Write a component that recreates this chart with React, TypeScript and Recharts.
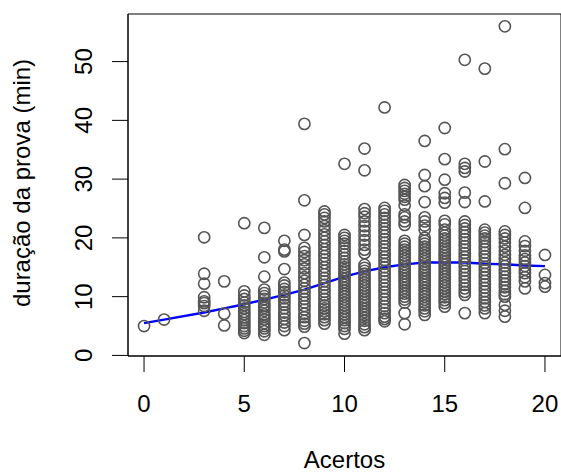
import {
  ComposedChart,
  Line,
  ReferenceArea,
  Scatter,
  XAxis,
  YAxis,
} from "recharts";

// number of correct answers (Acertos) that appear in the sample
const scores = [0, 1, 3, 4, 5, 6, 7, 8, 9, 10, 11, 12, 13, 14, 15, 16, 17, 18, 19, 20];

// exam duration in minutes, one list per score above
const durations: number[][] = [
  [5.0],
  [6.1],
  [20.1, 13.9, 12.2, 9.9, 9.2, 8.9, 8.4, 7.6],
  [12.6, 7.1, 5.1],
  [22.5, 10.9, 10.2, 9.6, 9.0, 8.5, 8.0, 7.4, 7.0, 6.5, 6.0, 5.5, 5.0, 4.6, 4.2, 3.8],
  [21.7, 16.7, 13.4, 11.2, 10.6, 10.1, 9.6, 9.0, 8.5, 8.1, 7.6, 7.0, 6.6, 6.1, 5.5, 5.0, 4.6, 4.1, 3.5],
  [19.5, 18.0, 17.7, 14.7, 12.4, 11.9, 11.3, 10.8, 10.2, 9.7, 9.1, 8.6, 8.0, 7.3, 6.8, 6.2, 5.6, 5.0, 4.3],
  [
    39.4, 26.4, 20.5, 18.3, 17.6, 16.9, 16.2, 15.5, 14.8, 14.0, 13.3, 12.7, 12.0, 11.4, 10.8, 10.2,
    9.6, 9.0, 8.4, 7.8, 7.1, 6.5, 5.9, 5.4, 4.9, 2.1,
  ],
  [
    24.5, 24.0, 23.4, 22.8, 22.0, 21.3, 20.6, 20.0, 19.4, 18.8, 18.1, 17.5, 16.9, 16.3, 15.7, 15.0,
    14.4, 13.8, 13.2, 12.6, 12.0, 11.4, 10.8, 10.2, 9.6, 9.0, 8.5, 8.0, 7.5, 7.0, 6.5, 6.0, 5.4,
  ],
  [
    32.6, 20.5, 20.0, 19.5, 19.0, 18.4, 17.8, 17.2, 16.6, 16.0, 15.5, 15.0, 14.5, 14.0, 13.5, 13.0,
    12.5, 12.0, 11.5, 11.0, 10.5, 10.0, 9.5, 9.0, 8.5, 8.0, 7.5, 7.0, 6.5, 6.0, 5.5, 5.0, 4.5, 3.7,
  ],
  [
    35.2, 31.5, 24.9, 24.2, 23.6, 22.8, 22.0, 21.2, 20.4, 19.6, 18.8, 18.0, 17.4, 15.4, 14.9, 14.4,
    13.9, 13.4, 12.9, 12.4, 11.9, 11.4, 10.9, 10.4, 9.9, 9.4, 8.9, 8.4, 7.9, 7.4, 6.9, 6.4, 5.9, 5.3,
    4.8, 4.3,
  ],
  [
    42.2, 25.1, 24.6, 24.0, 23.4, 22.8, 22.2, 21.6, 21.0, 20.4, 19.8, 19.2, 18.6, 18.0, 17.4, 16.8,
    16.2, 15.6, 15.0, 14.4, 13.8, 13.2, 12.6, 12.0, 11.4, 10.8, 10.2, 9.6, 9.0, 8.4, 7.8, 7.2, 6.6,
    6.2, 5.8,
  ],
  [
    29.0, 28.5, 28.0, 27.5, 27.0, 26.5, 25.5, 24.0, 23.5, 22.8, 22.2, 19.5, 19.0, 18.5, 18.0, 17.5,
    17.0, 16.5, 16.0, 15.5, 15.0, 14.5, 14.0, 13.5, 13.0, 12.5, 12.0, 11.5, 11.0, 10.5, 10.0, 9.5,
    9.0, 7.2, 5.3,
  ],
  [
    36.5, 30.7, 28.8, 26.1, 23.5, 22.8, 22.1, 21.4, 20.0, 19.5, 19.0, 18.5, 18.0, 17.5, 17.0, 16.5,
    16.0, 15.5, 15.0, 14.5, 14.0, 13.5, 13.0, 12.5, 12.0, 11.5, 11.0, 10.5, 10.0, 9.5, 9.0, 8.5, 8.0,
    7.5, 6.9,
  ],
  [
    38.7, 33.4, 29.9, 27.6, 26.8, 26.0, 22.9, 22.3, 21.4, 20.9, 20.4, 19.9, 19.4, 18.9, 18.4, 17.9,
    17.4, 16.9, 16.4, 15.9, 15.4, 14.9, 14.4, 13.9, 13.4, 12.9, 12.4, 11.9, 11.4, 10.9, 10.4, 9.9,
    9.4, 8.9, 8.3,
  ],
  [
    50.3, 32.6, 31.9, 31.3, 27.7, 26.1, 22.8, 22.2, 21.6, 21.0, 20.4, 19.8, 19.2, 18.6, 18.0, 17.4,
    16.8, 16.2, 15.6, 15.0, 14.4, 13.8, 13.2, 12.6, 12.0, 11.4, 10.8, 10.3, 7.2,
  ],
  [
    48.8, 33.0, 26.2, 21.4, 20.9, 20.4, 19.9, 19.3, 18.7, 18.1, 17.5, 16.9, 16.3, 15.7, 15.1, 14.5,
    13.9, 13.3, 12.7, 12.1, 11.5, 10.9, 10.3, 9.7, 9.1, 8.5, 8.0, 7.2,
  ],
  [
    56.0, 35.1, 29.3, 21.1, 20.5, 19.9, 19.2, 18.5, 17.8, 17.1, 16.4, 15.8, 15.2, 14.6, 14.0, 13.4,
    12.8, 12.2, 11.6, 11.0, 10.4, 10.0, 8.6, 7.6, 6.6,
  ],
  [30.2, 25.1, 19.4, 18.6, 17.8, 17.0, 16.4, 15.8, 15.2, 14.6, 14.0, 13.3, 12.6, 11.4],
  [17.1, 13.7, 12.3, 11.7],
];

// lowess curve, read at each score
const smooth = [
  5.5, 6.1, 7.3, 8.0, 8.7, 9.5, 10.3, 11.2, 12.3, 13.4, 14.3, 15.0, 15.5, 15.8, 15.8, 15.8, 15.6,
  15.5, 15.3, 15.2,
];

const xTicks = [0, 5, 10, 15, 20];
const yTicks = [0, 10, 20, 30, 40, 50];

const points = scores.flatMap((s, i) => durations[i].map((d) => ({ x: s, y: d })));
const curve = scores.map((s, i) => ({ x: s, y: smooth[i] }));

const FONT = "'Liberation Sans', Arial, Helvetica, sans-serif";

const Ring = (props: any) => (
  <circle cx={props.cx} cy={props.cy} r={5.6} fill="none" stroke="#555" strokeWidth={1.6} />
);

const YTick = ({ x, y, payload }: any) => (
  <text
    x={x}
    y={y}
    transform={`rotate(-90 ${x} ${y})`}
    textAnchor="middle"
    fontSize={24}
    fontFamily={FONT}
    fill="#000"
  >
    {payload.value}
  </text>
);

export default function App() {
  return (
    <div style={{ position: "absolute", left: 0, top: 0, width: 561, height: 475 }}>
      <ComposedChart width={561} height={475} margin={{ top: 14, right: 0, bottom: 0, left: 0 }}>
        <XAxis
          type="number"
          dataKey="x"
          domain={[-0.8, 20.8]}
          ticks={xTicks}
          allowDataOverflow
          height={119}
          tickSize={16}
          tickMargin={23}
          stroke="#000"
          tick={{ fontSize: 24, fontFamily: FONT, fill: "#000" }}
        />
        <YAxis
          type="number"
          dataKey="y"
          domain={[-0.1, 58.1]}
          ticks={yTicks}
          allowDataOverflow
          width={128}
          tickSize={16}
          tickMargin={20}
          stroke="#000"
          tick={<YTick />}
        />
        <ReferenceArea x1={-0.8} x2={20.8} y1={-0.1} y2={58.1} fill="none" stroke="#000" strokeWidth={1} />
        <Scatter data={points} shape={<Ring />} isAnimationActive={false} />
        <Line
          data={curve}
          dataKey="y"
          type="linear"
          stroke="#0000ff"
          strokeWidth={2.4}
          dot={false}
          isAnimationActive={false}
        />
      </ComposedChart>
      <svg
        width={561}
        height={475}
        style={{ position: "absolute", left: 0, top: 0, pointerEvents: "none" }}
        fontFamily={FONT}
        fontSize={24}
      >
        <text x={344.5} y={468} textAnchor="middle" fill="#000">
          Acertos
        </text>
        <text x={30} y={183} transform="rotate(-90 30 183)" textAnchor="middle" fill="#000">
          duração da prova (min)
        </text>
      </svg>
    </div>
  );
}
